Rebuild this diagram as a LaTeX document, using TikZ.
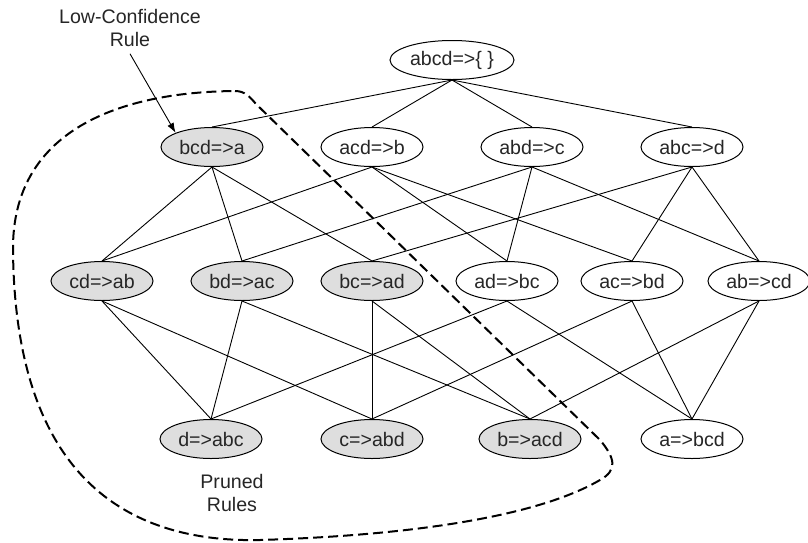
\documentclass[tikz,border=0pt]{standalone}
\usepackage{fontspec}
\setmainfont{Liberation Sans}
\usetikzlibrary{
    arrows.meta,
    shapes.geometric,
}
\definecolor{PrunedBG}{gray}{0.87}
\definecolor{RuleText}{gray}{0.15}
\tikzstyle{rule}=[draw,ellipse,line width=.5pt,minimum width=51pt,minimum height=19.5pt,inner sep=0pt,text=RuleText,font=\fontsize{9.8}{11.5}\selectfont]
\tikzstyle{pruned}=[rule,fill=PrunedBG]
\tikzstyle{link}=[line width=.45pt]
\tikzstyle{label}=[align=center,text=RuleText,font=\fontsize{9.8}{11.5}\selectfont]
\tikzstyle{border}=[line width=1pt,dash pattern=on 5pt off 2.5pt]
\tikzset{
    >={Latex[length=5pt,width=3.5pt]}
}

\begin{document}
\begin{tikzpicture}[x=.5pt,y=-.5pt]
    \useasboundingbox (0,0) rectangle (808,542);

    % Lattice
    \node[rule,minimum width=62pt] (abcd) at (452,60) {abcd=>\{ \}};

    \node[pruned] (bcd) at (212,147) {bcd=>a};
    \node[rule] (acd) at (372,147) {acd=>b};
    \node[rule] (abd) at (532,147) {abd=>c};
    \node[rule] (abc) at (692,147) {abc=>d};

    \node[pruned] (cd) at (102,281) {cd=>ab};
    \node[pruned] (bd) at (242,281) {bd=>ac};
    \node[pruned] (bc) at (372,281) {bc=>ad};
    \node[rule] (ad) at (507,281) {ad=>bc};
    \node[rule] (ac) at (632,281) {ac=>bd};
    \node[rule] (ab) at (759,281) {ab=>cd};

    \node[pruned] (d) at (211,439) {d=>abc};
    \node[pruned] (c) at (372,439) {c=>abd};
    \node[pruned] (b) at (530,439) {b=>acd};
    \node[rule] (a) at (692,439) {a=>bcd};

    \foreach \t in {bcd,acd,abd,abc}
        \draw[link] (abcd.south) -- (\t.north);
    \foreach \s/\t in {bcd/cd,bcd/bd,bcd/bc,acd/cd,acd/ad,acd/ac,abd/bd,abd/ad,abd/ab,abc/bc,abc/ac,abc/ab,
                       cd/d,cd/c,bd/d,bd/b,bc/c,bc/b,ad/d,ad/a,ac/c,ac/a,ab/b,ab/a}
        \draw[link] (\s.south) -- (\t.north);

    % Labels
    \node[label] (lowconf) at (130,28) {Low-Confidence\\Rule};
    \draw[->,link] (lowconf.south) -- (bcd.north west);
    \node[label] (prunedrules) at (232,493) {Pruned\\Rules};

    % Pruned region
    \draw[border] (235,91) .. controls (245,91) and (250,97) .. (256,104)
        -- (600,440) .. controls (615,458) and (618,470) .. (600,480)
        .. controls (540,515) and (420,535) .. (260,540)
        .. controls (125,543) and (15,475) .. (13,250)
        .. controls (12,130) and (120,92) .. cycle;
\end{tikzpicture}
\end{document}
